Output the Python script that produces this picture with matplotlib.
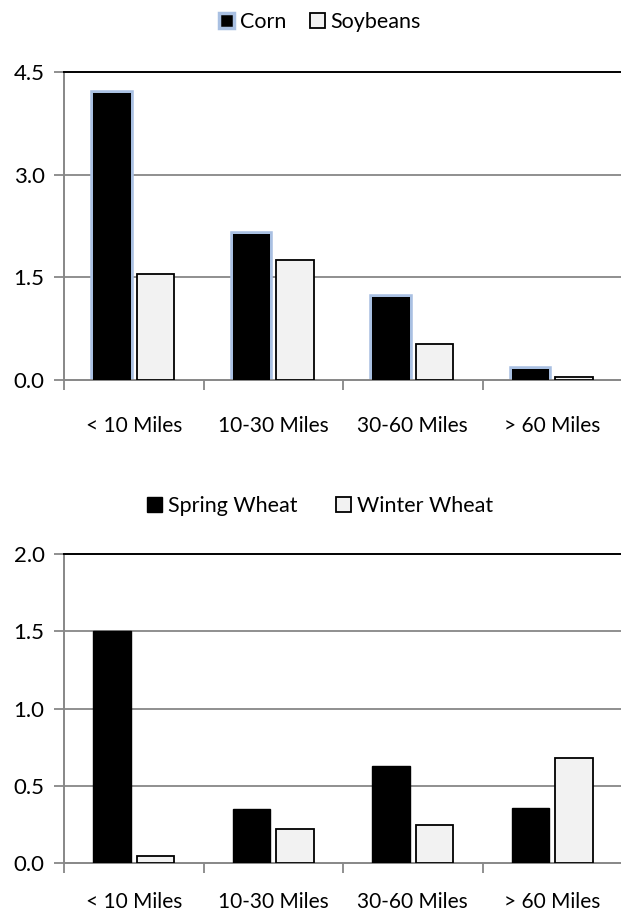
import matplotlib
matplotlib.use("Agg")
import matplotlib.pyplot as plt
import numpy as np
from matplotlib.patches import Patch

plt.rcParams['font.family'] = ['Lato', 'DejaVu Sans']

# --- data ---
distances = ["< 10 Miles", "10-30 Miles", "30-60 Miles", "> 60 Miles"]
corn = [4.19, 2.13, 1.21, 0.17]
soybeans = [1.55, 1.75, 0.53, 0.05]
spring_wheat = [1.50, 0.35, 0.63, 0.36]
winter_wheat = [0.05, 0.22, 0.25, 0.68]
top_ticks = [0.0, 1.5, 3.0, 4.5]
bottom_ticks = [0.0, 0.5, 1.0, 1.5, 2.0]

GRID = "#878787"
LIGHT = "#F2F2F2"
GLOW = "#A9C0E2"
FS = 15

W, H = 621, 916
fig = plt.figure(figsize=(W / 100, H / 100), dpi=100)


def px_axes(left, right, top, bottom):
    return fig.add_axes([left / W, 1 - bottom / H, (right - left) / W, (bottom - top) / H])


def style_axes(ax, ticks, label_pad):
    ax.set_xlim(0, len(distances))
    ax.set_ylim(ticks[0], ticks[-1])
    ax.set_yticks(ticks)
    ax.set_yticklabels([f"{t:.1f}" for t in ticks], fontsize=16)
    ax.tick_params(axis='y', length=7, width=1.3, color=GRID, pad=7)
    # category boundary ticks + centered labels
    ax.set_xticks(np.arange(len(distances) + 1))
    ax.set_xticklabels([])
    ax.tick_params(axis='x', which='major', length=7, width=1.3, color=GRID, direction='out')
    ax.set_xticks(np.arange(len(distances)) + 0.5, minor=True)
    ax.set_xticklabels(distances, minor=True, fontsize=FS)
    ax.tick_params(axis='x', which='minor', length=0, pad=label_pad)
    for t in ticks[1:-1]:
        ax.axhline(t, color=GRID, lw=1.3, zorder=0.5)
    ax.spines['right'].set_visible(False)
    ax.spines['top'].set_color('black')
    ax.spines['top'].set_linewidth(1.4)
    for s in ['left', 'bottom']:
        ax.spines[s].set_color(GRID)
        ax.spines[s].set_linewidth(1.4)
    ax.set_axisbelow(True)


x = np.arange(len(distances))
bw = 0.27
off = 0.155

# --- top chart: corn / soybeans ---
ax1 = px_axes(64, 622, 71.7, 380.3)
ax1.bar(x + 0.5 - off, corn, bw, color='black', edgecolor=GLOW, linewidth=4, zorder=2)
ax1.bar(x + 0.5 - off, corn, bw, color='black', linewidth=0, zorder=3)
ax1.bar(x + 0.5 + off, soybeans, bw, color=LIGHT, edgecolor='black', linewidth=1.3, zorder=3)
style_axes(ax1, top_ticks, 26)
h1 = [Patch(facecolor='black', edgecolor=GLOW, linewidth=2.5, label='Corn'),
      Patch(facecolor=LIGHT, edgecolor='black', linewidth=1.3, label='Soybeans')]
fig.legend(handles=h1, loc='center', bbox_to_anchor=(320 / W, 1 - 22 / H), ncol=2,
           frameon=False, fontsize=15.5, handlelength=0.7, handleheight=0.7,
           handletextpad=0.25, columnspacing=1.1)

# --- bottom chart: spring / winter wheat ---
ax2 = px_axes(64, 622, 554, 863.3)
ax2.bar(x + 0.5 - off, spring_wheat, bw, color='black', edgecolor='black', linewidth=1, zorder=3)
ax2.bar(x + 0.5 + off, winter_wheat, bw, color=LIGHT, edgecolor='black', linewidth=1.3, zorder=3)
style_axes(ax2, bottom_ticks, 21)
h2 = [Patch(facecolor='black', edgecolor='black', linewidth=1, label='Spring Wheat'),
      Patch(facecolor=LIGHT, edgecolor='black', linewidth=1.3, label='Winter Wheat')]
fig.legend(handles=h2, loc='center', bbox_to_anchor=(320 / W, 1 - 506 / H), ncol=2,
           frameon=False, fontsize=15.5, handlelength=0.7, handleheight=0.7,
           handletextpad=0.25, columnspacing=1.8)

fig.savefig("out.png", dpi=100)
